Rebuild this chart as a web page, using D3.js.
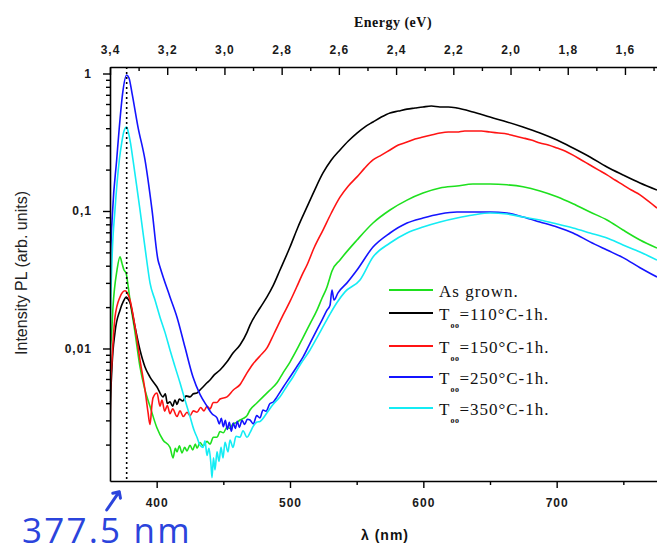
<!DOCTYPE html>
<html>
<head>
<meta charset="utf-8">
<script src="https://cdn.jsdelivr.net/npm/d3@7"></script>
<style>
  html, body { margin: 0; padding: 0; background: #fff; }
  svg { display: block; }
</style>
</head>
<body>
<svg id="chart" width="657" height="543"></svg>
<script>
// Photoluminescence spectra: [wavelength (nm), PL intensity (arb. units)]
const asGrown = [
  [365.0,0.0011],[365.3,0.0101],[366.0,0.0119],[367.25,0.0201],[370.25,0.0372],[372.5,0.0464],
  [374.0,0.0416],[375.5,0.0372],[377.0,0.0355],[378.5,0.0289],[380.0,0.0225],[383.75,0.0131],
  [387.5,0.00734],[391.25,0.00499],[395.0,0.0038],[400.25,0.00264],[404.75,0.00216],[410.0,0.00191],
  [412.25,0.0016],[414.0,0.00188],[415.25,0.00177],[417.0,0.00196],[419.0,0.00174],[421.0,0.00191],
  [422.75,0.0018],[425.0,0.00198],[427.0,0.00183],[429.0,0.00202],[430.25,0.00188],[432.5,0.00207],
  [434.75,0.00196],[437.75,0.00211],[440.0,0.00202],[442.5,0.00226],[445.25,0.00226],[447.5,0.00249],
  [450.0,0.00244],[452.75,0.00267],[455.0,0.00262],[457.25,0.00283],[460.25,0.0029],[462.5,0.00302],
  [465.0,0.0031],[467.75,0.00325],[470.0,0.00357],[474.75,0.00398],[479.75,0.00445],[485.0,0.00499],
  [490.25,0.00563],[495.0,0.0067],[500.0,0.00797],[505.0,0.00975],[509.75,0.012],[515.0,0.0151],
  [520.25,0.019],[524.0,0.0232],[527.75,0.028],[530.0,0.033],[531.5,0.0366],[537.5,0.044],
  [550.25,0.0615],[562.25,0.0818],[575.0,0.1017],[587.75,0.12],[599.75,0.135],[612.5,0.147],
  [625.25,0.152],[637.25,0.157],[650.0,0.157],[662.75,0.155],[674.75,0.15],[687.5,0.14],
  [700.25,0.127],[712.25,0.113],[725.0,0.0983],[737.75,0.086],[749.75,0.0727],[762.5,0.0615],
  [775.25,0.0537]
];

const anneal110 = [
  [365.0,0.0011],[365.3,0.00344],[366.5,0.00734],[368.75,0.0131],[372.5,0.019],[375.0,0.022],
  [377.25,0.0237],[378.5,0.0229],[380.0,0.0216],[383.75,0.0144],[387.5,0.00975],[391.25,0.00734],
  [395.0,0.0062],[400.25,0.00525],[404.75,0.00445],[406.5,0.00468],[408.0,0.00398],[410.0,0.0041],
  [412.0,0.0038],[413.75,0.00422],[415.25,0.00392],[417.0,0.00429],[419.75,0.00415],[422.0,0.00452],
  [425.0,0.00445],[427.5,0.00468],[430.25,0.00475],[432.5,0.00499],[434.75,0.00525],[437.75,0.00563],
  [440.0,0.0059],[443.0,0.0064],[447.5,0.00698],[452.75,0.00800],[457.25,0.00927],[462.5,0.0106],
  [467.75,0.0131],[470.0,0.0148],[477.5,0.0197],[482.75,0.0237],[487.25,0.0285],[492.5,0.0372],
  [500.0,0.0547],[506.0,0.0765],[512.75,0.107],[518.5,0.142],[524.75,0.189],[531.0,0.235],
  [537.5,0.278],[543.75,0.323],[550.25,0.369],[556.0,0.408],[562.25,0.444],[568.5,0.482],
  [575.0,0.516],[581.25,0.533],[587.75,0.551],[593.75,0.561],[599.75,0.571],[606.0,0.58],
  [612.5,0.571],[618.75,0.571],[625.25,0.561],[637.25,0.525],[650.0,0.482],[662.75,0.444],
  [674.75,0.408],[687.5,0.369],[700.25,0.328],[712.25,0.287],[725.0,0.247],[737.75,0.209],
  [749.75,0.183],[762.5,0.16],[775.25,0.142]
];

const anneal150 = [
  [365.0,0.0011],[365.3,0.00474],[366.5,0.00824],[368.75,0.0169],[372.5,0.0237],[376.25,0.0263],
  [378.0,0.0254],[380.0,0.0225],[383.75,0.0144],[387.5,0.00824],[391.25,0.00499],[393.5,0.00344],
  [395.0,0.0028],[396.5,0.00392],[397.25,0.00437],[400.25,0.00474],[402.5,0.0038],[404.0,0.00422],
  [406.0,0.0035],[408.0,0.00385],[410.0,0.00335],[412.0,0.00364],[415.25,0.0032],[417.5,0.00352],
  [420.0,0.0032],[422.75,0.00344],[425.0,0.00325],[427.5,0.00352],[430.25,0.00344],[433.0,0.00372],
  [435.5,0.00352],[437.75,0.0038],[440.0,0.00364],[442.5,0.00405],[445.25,0.00405],[447.5,0.00429],
  [452.75,0.00445],[457.5,0.00499],[462.5,0.00546],[467.75,0.00664],[472.25,0.00771],[477.5,0.00882],
  [482.75,0.0101],[488.0,0.0128],[494.75,0.0175],[500.0,0.022],[505.0,0.028],[509.0,0.0342],
  [512.75,0.0405],[518.0,0.0538],[524.75,0.0727],[531.0,0.0967],[537.5,0.126],[543.75,0.152],
  [550.25,0.177],[556.0,0.205],[562.25,0.235],[568.5,0.255],[575.0,0.278],[581.25,0.302],
  [587.75,0.317],[593.75,0.334],[599.75,0.345],[606.0,0.357],[612.5,0.369],[618.75,0.375],
  [625.25,0.375],[631.0,0.382],[637.25,0.382],[643.5,0.382],[650.0,0.375],[656.5,0.369],
  [662.75,0.363],[668.75,0.351],[674.75,0.34],[681.0,0.328],[687.5,0.312],[693.75,0.302],
  [700.25,0.287],[706.25,0.273],[712.25,0.255],[718.5,0.235],[725.0,0.216],[731.25,0.199],
  [737.75,0.183],[743.75,0.168],[749.75,0.155],[756.0,0.142],[762.5,0.131],[768.75,0.118],
  [775.25,0.105]
];

const anneal250 = [
  [365.0,0.0011],[365.2,0.0372],[367.0,0.102],[370.0,0.235],[372.0,0.408],[374.5,0.721],
  [377.5,0.975],[379.25,0.927],[381.5,0.721],[386.0,0.408],[391.25,0.235],[396.5,0.102],
  [401.0,0.044],[402.5,0.0392],[410.0,0.0237],[415.25,0.0169],[421.25,0.0102],[427.25,0.0062],
  [432.5,0.00463],[437.75,0.0038],[441.5,0.00335],[445.25,0.00313],[447.0,0.00283],[448.5,0.0031],
  [450.0,0.0027],[451.5,0.003],[453.0,0.00258],[454.5,0.0029],[456.0,0.0025],[457.5,0.00287],
  [459.0,0.00262],[460.5,0.00295],[462.0,0.00267],[464.0,0.003],[466.0,0.0028],[468.0,0.00306],
  [470.0,0.00302],[472.5,0.00283],[475.0,0.00325],[477.5,0.00313],[479.75,0.00357],[482.0,0.0035],
  [485.0,0.00398],[487.5,0.00408],[490.25,0.00445],[495.0,0.00525],[500.0,0.0062],[505.0,0.00734],
  [509.75,0.00866],[515.0,0.0109],[520.25,0.0137],[524.0,0.0161],[527.75,0.019],[530.0,0.0206],
  [531.5,0.0266],[533.0,0.0225],[536.0,0.0254],[542.75,0.03],[550.25,0.0372],[562.25,0.0547],
  [575.0,0.0692],[587.75,0.0818],[599.75,0.0889],[612.5,0.0951],[625.25,0.0983],[637.25,0.0983],
  [650.0,0.0983],[662.75,0.0967],[674.75,0.0904],[687.5,0.0832],[700.25,0.0765],[712.25,0.0692],
  [725.0,0.0596],[737.75,0.052],[749.75,0.0458],[762.5,0.0387],[775.25,0.0331]
];

const anneal350 = [
  [365.0,0.0011],[365.2,0.0136],[366.5,0.044],[368.75,0.102],[372.0,0.235],[373.75,0.312],
  [375.5,0.382],[377.5,0.408],[378.5,0.382],[380.4,0.312],[382.25,0.235],[384.9,0.155],
  [387.5,0.102],[392.5,0.044],[395.0,0.03],[398.75,0.0225],[402.5,0.0169],[406.25,0.0131],
  [410.0,0.00975],[413.75,0.00738],[417.5,0.00563],[421.25,0.00422],[425.0,0.0032],[428.0,0.00255],
  [430.25,0.00226],[432.5,0.00198],[434.75,0.00191],[436.25,0.00213],[437.75,0.00167],[439.25,0.00188],
  [440.75,0.00142],[441.5,0.00115],[442.6,0.0016],[443.75,0.00131],[445.25,0.00177],[446.75,0.00151],
  [448.25,0.00191],[449.75,0.0016],[451.25,0.00208],[453.5,0.00177],[455.0,0.00216],[457.25,0.00191],
  [459.5,0.0023],[462.5,0.00226],[464.75,0.00252],[467.75,0.00226],[470.0,0.00244],[472.25,0.0027],
  [475.25,0.00292],[477.5,0.00295],[482.75,0.00341],[487.25,0.00392],[492.5,0.00445],[497.75,0.00534],
  [502.25,0.0062],[507.5,0.00758],[515.0,0.00975],[520.25,0.012],[524.75,0.0144],[530.0,0.0178],
  [535.25,0.0216],[541.25,0.0258],[552.5,0.0315],[562.25,0.0463],[575.0,0.0585],[587.75,0.0692],
  [599.75,0.0765],[612.5,0.0832],[625.25,0.0889],[637.25,0.0935],[650.0,0.0967],[662.75,0.0951],
  [674.75,0.0904],[687.5,0.086],[700.25,0.0804],[712.25,0.0752],[725.0,0.0692],[737.75,0.0636],
  [749.75,0.0566],[762.5,0.0503],[775.25,0.044]
];

const seriesData = [asGrown, anneal110, anneal150, anneal250, anneal350];
const seriesColors = ["#1ee01e", "#000000", "#ff1414", "#1414ff", "#14ecf4"];
const annealTemps = [null, 110, 150, 250, 350];          // annealing temperature (°C), 1 h
const asGrownLabel = "As grown.";

const wavelengthTicks = [400, 500, 600, 700];
const wavelengthMinorTicks = [450, 550, 650, 750];
const energyTicks = [3.4, 3.2, 3.0, 2.8, 2.6, 2.4, 2.2, 2.0, 1.8, 1.6];
const energyMinorTicks = [3.3, 3.1, 2.9, 2.7, 2.5, 2.3, 2.1, 1.9, 1.7, 1.5];
const intensityTicks = [0.01, 0.1, 1];
const intensityTickLabels = ["0,01", "0,1", "1"];
const peakWavelength = 377.5;

// ---- layout ----
const W = 657, H = 543;
const plot = { left: 110, top: 67, right: 657, bottom: 481 };

const svg = d3.select("#chart");
svg.append("rect").attr("width", W).attr("height", H).attr("fill", "#fff");

const x = d3.scaleLinear().domain([365, 775.25]).range([plot.left, plot.right]);
const xE = d3.scaleLinear().domain([3.4, 1.488]).range([plot.left, plot.right]);
const y = d3.scaleLog().domain([0.001087, 1.115]).range([plot.bottom, plot.top]);

const tickFont = "'Liberation Sans', Arial, sans-serif";

svg.append("defs").append("clipPath").attr("id", "plotClip")
  .append("rect")
  .attr("x", plot.left).attr("y", plot.top)
  .attr("width", plot.right - plot.left).attr("height", plot.bottom - plot.top);

// ---- curves ----
const line = d3.line()
  .x(d => x(d[0]))
  .y(d => y(d[1]))
  .curve(d3.curveMonotoneX);

const curves = svg.append("g").attr("clip-path", "url(#plotClip)");
seriesData.forEach((s, i) => {
  curves.append("path")
    .datum(s)
    .attr("d", line)
    .attr("fill", "none")
    .attr("stroke", seriesColors[i])
    .attr("stroke-width", 1.6)
    .attr("stroke-linejoin", "round");
});

// dotted marker at the excitonic emission peak
svg.append("line")
  .attr("x1", x(peakWavelength)).attr("x2", x(peakWavelength))
  .attr("y1", plot.top).attr("y2", plot.bottom)
  .attr("stroke", "#000").attr("stroke-width", 1.6)
  .attr("stroke-dasharray", "2,3");

// ---- axes ----
function styleAxis(g) {
  g.selectAll("path.domain").attr("stroke", "#000").attr("stroke-width", 1.6);
  g.selectAll(".tick line").attr("stroke", "#000").attr("stroke-width", 1.4);
  g.selectAll(".tick text")
    .attr("fill", "#1a1a1a")
    .style("font-family", tickFont)
    .style("font-size", "12px")
    .style("font-weight", "bold")
    .style("letter-spacing", "1px");
}

// bottom: wavelength
const gBottom = svg.append("g").attr("transform", `translate(0,${plot.bottom})`)
  .call(d3.axisBottom(x).tickValues(wavelengthTicks).tickSize(7).tickSizeOuter(0).tickPadding(10));
styleAxis(gBottom);
const gBottomMinor = svg.append("g").attr("transform", `translate(0,${plot.bottom})`)
  .call(d3.axisBottom(x).tickValues(wavelengthMinorTicks).tickSize(4).tickFormat(""));
gBottomMinor.select("path.domain").remove();
styleAxis(gBottomMinor);

// top: photon energy
const fmtComma = d => d3.format(".1f")(d).replace(".", ",");
const gTop = svg.append("g").attr("transform", `translate(0,${plot.top})`)
  .call(d3.axisTop(xE).tickValues(energyTicks).tickSize(-8).tickSizeOuter(0).tickPadding(13).tickFormat(fmtComma));
styleAxis(gTop);
const gTopMinor = svg.append("g").attr("transform", `translate(0,${plot.top})`)
  .call(d3.axisTop(xE).tickValues(energyMinorTicks).tickSize(-4).tickFormat(""));
gTopMinor.select("path.domain").remove();
styleAxis(gTopMinor);

// left: PL intensity (log)
const intensityMinor = [];
[0.001, 0.01, 0.1].forEach(dec => {
  for (let k = 2; k <= 9; k++) {
    const v = k * dec;
    if (v >= y.domain()[0] && v <= y.domain()[1]) intensityMinor.push(v);
  }
});
const gLeft = svg.append("g").attr("transform", `translate(${plot.left},0)`)
  .call(d3.axisLeft(y).tickValues(intensityTicks).tickSize(7).tickSizeOuter(0).tickPadding(11)
    .tickFormat((d, i) => intensityTickLabels[i]));
styleAxis(gLeft);
const gLeftMinor = svg.append("g").attr("transform", `translate(${plot.left},0)`)
  .call(d3.axisLeft(y).tickValues(intensityMinor).tickSize(4).tickFormat(""));
gLeftMinor.select("path.domain").remove();
styleAxis(gLeftMinor);

// ---- axis titles ----
svg.append("text")
  .attr("x", 393).attr("y", 27)
  .attr("text-anchor", "middle")
  .style("font-family", "'Liberation Serif', 'Times New Roman', serif")
  .style("font-size", "14px")
  .style("font-weight", "bold")
  .style("letter-spacing", "0.5px")
  .attr("fill", "#111")
  .text("Energy (eV)");

svg.append("text")
  .attr("x", 385).attr("y", 540)
  .attr("text-anchor", "middle")
  .style("font-family", tickFont)
  .style("font-size", "14px")
  .style("font-weight", "bold")
  .style("letter-spacing", "1px")
  .attr("fill", "#111")
  .text("λ (nm)");

svg.append("text")
  .attr("transform", `translate(27,${273}) rotate(-90)`)
  .attr("text-anchor", "middle")
  .style("font-family", tickFont)
  .style("font-size", "16px")
  .attr("fill", "#222")
  .text("Intensity PL (arb. units)");

// ---- legend ----
const legendX = 389, legendY = 290;
const legendRowOffsets = [0, 23, 56, 87, 118];
const legend = svg.append("g").attr("transform", `translate(${legendX},${legendY})`);
seriesData.forEach((s, i) => {
  const row = legend.append("g").attr("transform", `translate(0,${legendRowOffsets[i]})`);
  row.append("line")
    .attr("x1", 0).attr("x2", 44).attr("y1", 0).attr("y2", 0)
    .attr("stroke", seriesColors[i]).attr("stroke-width", 2);
  const t = row.append("text")
    .attr("x", 50).attr("y", 7)
    .style("font-family", "'Liberation Serif', 'Times New Roman', serif")
    .style("font-size", "17px")
    .style("letter-spacing", "1px")
    .attr("fill", "#111");
  if (annealTemps[i] == null) {
    t.text(asGrownLabel);
  } else {
    t.append("tspan").text("T");
    t.append("tspan").attr("dy", 8).style("font-size", "8px").style("font-weight", "bold")
      .style("letter-spacing", "0.5px").text("oo");
    t.append("tspan").attr("dy", -8).text(`=${annealTemps[i]}°C-1h.`);
  }
});

// ---- peak annotation ----
const ax = x(peakWavelength), ay = plot.bottom;
const tip = [ax - 7.4, ay + 10.7];
svg.append("path")
  .attr("d", `M${ax - 20},${ay + 29} L${tip[0]},${tip[1]} M${tip[0] - 6.5},${tip[1] + 1.5} L${tip[0]},${tip[1]} L${tip[0] + 1.2},${tip[1] + 6.5}`)
  .attr("fill", "none")
  .attr("stroke", "#2b44dc")
  .attr("stroke-width", 3)
  .attr("stroke-linecap", "round")
  .attr("stroke-linejoin", "round");

svg.append("text")
  .attr("x", 22).attr("y", 543)
  .attr("text-anchor", "start")
  .style("font-family", "'Open Sans', 'Noto Sans', sans-serif")
  .style("font-size", "35px")
  .style("letter-spacing", "2.2px")
  .attr("fill", "#2b44dc")
  .text(`${peakWavelength} nm`);
</script>
</body>
</html>
